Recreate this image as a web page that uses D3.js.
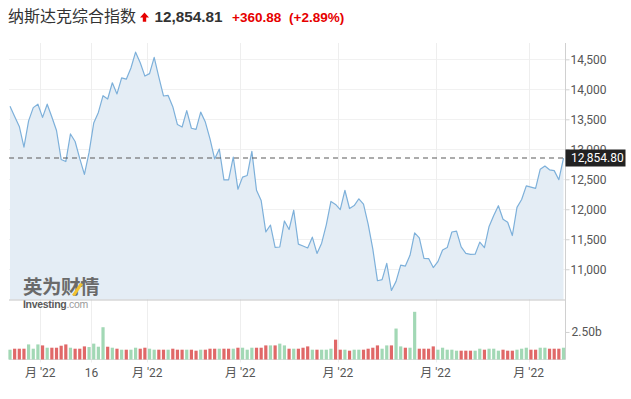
<!DOCTYPE html>
<html><head><meta charset="utf-8">
<script src="https://cdn.jsdelivr.net/npm/d3@7"></script>
<style>
html,body{margin:0;padding:0;background:#fff;}
svg{display:block;}
</style></head>
<body>
<svg id="chart" width="631" height="399"></svg>
<script>
// ---- data ----
const titleName = "纳斯达克综合指数";
const lastClose = "12,854.81";
const changeAbs = "+360.88";
const changePct = "(+2.89%)";
const priceLabel = 12854.80;

// daily closes, 17 Feb 2022 .. 10 Aug 2022
const closes = [
13716.72,13548.07,13381.52,13037.49,13473.59,13694.62,13751.40,13532.46,13752.02,13537.94,
13313.44,12830.96,12795.55,13255.55,13129.96,12843.81,12581.22,12948.62,13436.55,13614.78,
13893.84,13838.46,14108.82,13922.60,14191.84,14169.30,14354.90,14619.64,14442.27,14220.52,
14261.50,14532.55,14204.17,13888.82,13897.30,13711.00,13411.96,13371.57,13643.59,13351.08,
13332.36,13619.66,13453.07,13174.65,12839.29,13004.85,12490.74,12488.93,12871.53,12334.64,
12536.02,12563.76,12964.86,12317.69,12144.66,11623.25,11737.67,11364.24,11370.96,11805.00,
11662.79,11984.52,11418.15,11388.50,11354.62,11535.27,11264.45,11434.74,11740.65,12131.13,
12081.39,11994.46,12316.90,12012.73,12061.37,12175.23,12086.27,11754.23,11340.02,10809.23,
10828.35,11099.15,10646.10,10798.35,11069.30,11053.08,11232.19,11607.62,11524.55,11181.54,
11177.89,11028.74,11127.85,11322.24,11361.85,11621.35,11635.31,11372.60,11264.73,11247.58,
11251.19,11452.42,11360.05,11713.15,11897.65,12059.61,11834.11,11782.67,11562.57,12032.42,
12162.59,12390.69,12368.98,12348.76,12668.16,12720.58,12657.55,12644.46,12493.93,12854.81
];

// daily volume, billions
const volumes = [
0.89,0.98,0.98,0.98,1.37,0.98,1.37,1.28,1.07,1.07,
1.07,1.25,1.37,1.07,0.98,0.98,1.19,1.13,1.44,1.16,
2.93,1.16,1.07,0.98,0.89,0.89,0.89,1.07,0.98,1.07,
0.98,0.89,0.89,0.89,0.89,0.98,0.89,0.89,0.89,0.89,
0.80,0.89,0.89,0.98,0.98,0.98,0.98,0.98,0.98,1.07,
1.07,0.89,1.07,1.07,1.07,1.28,1.28,1.28,1.44,1.28,
0.98,0.98,0.98,1.07,1.19,0.89,0.89,0.89,0.89,0.98,
1.80,0.89,0.89,0.80,0.89,0.89,0.89,0.98,1.07,1.28,
0.98,1.28,1.28,2.81,1.19,1.07,1.07,4.33,0.98,0.98,
0.98,1.19,0.89,1.07,0.89,0.89,0.80,0.80,0.80,0.80,
0.80,0.98,0.89,0.98,0.98,0.80,0.89,0.80,0.80,0.89,
0.98,1.07,0.89,0.89,1.07,1.07,0.98,0.98,0.98,1.07
];

const yTicks = [11000,11500,12000,12500,13000,13500,14000,14500];
const volTicks = [2.5];
const volTickLabels = ["2.50b"];
const xTickIndex = [7,18,30,50,71,92,112];
const xTickLabels = ["月 '22","16","月 '22","月 '22","月 '22","月 '22","月 '22"];

// ---- layout ----
const svg = d3.select("#chart");
const plotL = 9, plotR = 565.5, plotT = 43, plotB = 299.5;
const volT = 302, volB = 359.5;

const x = d3.scaleLinear().domain([0, closes.length - 1]).range([10, 563.5]);
const y = d3.scaleLinear().domain([10496, 14772]).range([plotB, plotT]);
const yv = d3.scaleLinear().domain([0, 5.22]).range([volB, volT]);

const font = "Roboto, 'Liberation Sans', Arial, sans-serif";

// ---- title ----
svg.append("text").attr("x", 8).attr("y", 21.5)
  .attr("font-family", "'Noto Sans CJK SC', sans-serif").attr("font-size", 16)
  .attr("fill", "#333").text(titleName);
svg.append("path")
  .attr("d", "M144.5,12.5 L149,17.5 L146.2,17.5 L146.2,21.8 L142.8,21.8 L142.8,17.5 L140,17.5 Z")
  .attr("fill", "#e60000");
svg.append("text").attr("x", 154.5).attr("y", 21.5)
  .attr("font-family", "'Liberation Sans', Arial, sans-serif").attr("font-size", 15.3)
  .attr("font-weight", "bold").attr("fill", "#333").text(lastClose);
svg.append("text").attr("x", 232).attr("y", 21.5)
  .attr("font-family", "'Liberation Sans', Arial, sans-serif").attr("font-size", 13.5)
  .attr("font-weight", "bold").attr("fill", "#e60000").text(changeAbs);
svg.append("text").attr("x", 289).attr("y", 21.5)
  .attr("font-family", "'Liberation Sans', Arial, sans-serif").attr("font-size", 13.5)
  .attr("font-weight", "bold").attr("fill", "#e60000").text(changePct);

// ---- gridlines ----
const g = svg.append("g");
g.selectAll(".hg").data(yTicks).enter().append("line")
  .attr("x1", plotL).attr("x2", plotR)
  .attr("y1", d => Math.round(y(d)) + 0.5).attr("y2", d => Math.round(y(d)) + 0.5)
  .attr("stroke", "#f1f1f1");
g.selectAll(".vg").data(xTickIndex).enter().append("line")
  .attr("x1", d => Math.round(x(d - 0.5)) + 0.5).attr("x2", d => Math.round(x(d - 0.5)) + 0.5)
  .attr("y1", plotT).attr("y2", volB + 3)
  .attr("stroke", "#eeeeee");

// ---- area + line ----
const area = d3.area().x((d, i) => x(i)).y0(plotB).y1(d => y(d));
const line = d3.line().x((d, i) => x(i)).y(d => y(d));
svg.append("path").datum(closes).attr("d", area).attr("fill", "#e4edf5");
svg.append("path").datum(closes).attr("d", line)
  .attr("fill", "none").attr("stroke", "#7db0da").attr("stroke-width", 1.2)
  .attr("stroke-linejoin", "round");

// ---- watermark ----
const wm = svg.append("g");
wm.append("text").attr("x", 23).attr("y", 294)
  .attr("font-family", "'Noto Sans CJK SC', sans-serif").attr("font-size", 19.5)
  .attr("font-weight", "bold").attr("fill", "#6a6a6a").attr("letter-spacing", -0.5)
  .text("英为财情");
wm.append("path").attr("d", "M72,295 L80,283 L83,284 L75,296 Z").attr("fill", "#f2c230");

// ---- frame lines ----
svg.append("line").attr("x1", plotL).attr("x2", plotR).attr("y1", plotB + 0.5).attr("y2", plotB + 0.5)
  .attr("stroke", "#c4c4c4");
svg.append("line").attr("x1", plotL).attr("x2", plotR).attr("y1", volB).attr("y2", volB)
  .attr("stroke", "#dddddd");
svg.append("line").attr("x1", plotR).attr("x2", plotR).attr("y1", plotT).attr("y2", volB)
  .attr("stroke", "#d0d0d0");

wm.append("text").attr("x", 23).attr("y", 307.5)
  .attr("font-family", "'Liberation Sans', Arial, sans-serif").attr("font-size", 10.5)
  .attr("letter-spacing", -0.3)
  .call(t => {
    t.append("tspan").attr("font-weight", "bold").attr("fill", "#5a5a5a").text("Investing");
    t.append("tspan").attr("fill", "#9a9a9a").text(".com");
  });

// ---- volume bars ----
svg.selectAll(".vb").data(volumes).enter().append("rect")
  .attr("x", (d, i) => x(i) - 1.6).attr("width", 3.2)
  .attr("y", d => yv(d)).attr("height", d => volB - yv(d))
  .attr("fill", (d, i) => (i === 0 || closes[i] >= closes[i - 1]) ? "#a2d8b5" : "#e06868");

// ---- dashed last price line ----
svg.append("line").attr("x1", plotL).attr("x2", plotR)
  .attr("y1", y(priceLabel)).attr("y2", y(priceLabel))
  .attr("stroke", "#5a5a5a").attr("stroke-width", 1.2).attr("stroke-dasharray", "5,4");

// ---- y axis ----
const yAxis = d3.axisRight(y).tickValues(yTicks).tickFormat(d3.format(",")).tickSize(4).tickPadding(1);
const ya = svg.append("g").attr("transform", `translate(${plotR},0)`).call(yAxis);
ya.select(".domain").remove();
ya.selectAll(".tick line").attr("stroke", "#d0d0d0");
ya.selectAll(".tick text").attr("font-family", font).attr("font-size", 12).attr("fill", "#555");

const vAxis = d3.axisRight(yv).tickValues(volTicks).tickFormat((d, i) => volTickLabels[i]).tickSize(4).tickPadding(2);
const va = svg.append("g").attr("transform", `translate(${plotR},0)`).call(vAxis);
va.select(".domain").remove();
va.selectAll(".tick line").attr("stroke", "#d0d0d0");
va.selectAll(".tick text").attr("font-family", font).attr("font-size", 12).attr("fill", "#555");

// ---- price label box ----
const py = y(priceLabel);
svg.append("rect").attr("x", plotR).attr("y", py - 8.5).attr("width", 60).attr("height", 17)
  .attr("fill", "#222");
svg.append("text").attr("x", plotR + 5.5).attr("y", py).attr("dy", "0.35em")
  .attr("font-family", font).attr("font-size", 12).attr("fill", "#fff")
  .text(d3.format(",.2f")(priceLabel));

// ---- x axis labels ----
svg.selectAll(".xl").data(xTickIndex).enter().append("text")
  .attr("x", d => x(d - 0.5)).attr("y", 376.5).attr("text-anchor", "middle")
  .attr("font-family", "Roboto, 'Noto Sans CJK SC', sans-serif").attr("font-size", 12).attr("fill", "#555")
  .text((d, i) => xTickLabels[i]);
</script>
</body></html>
